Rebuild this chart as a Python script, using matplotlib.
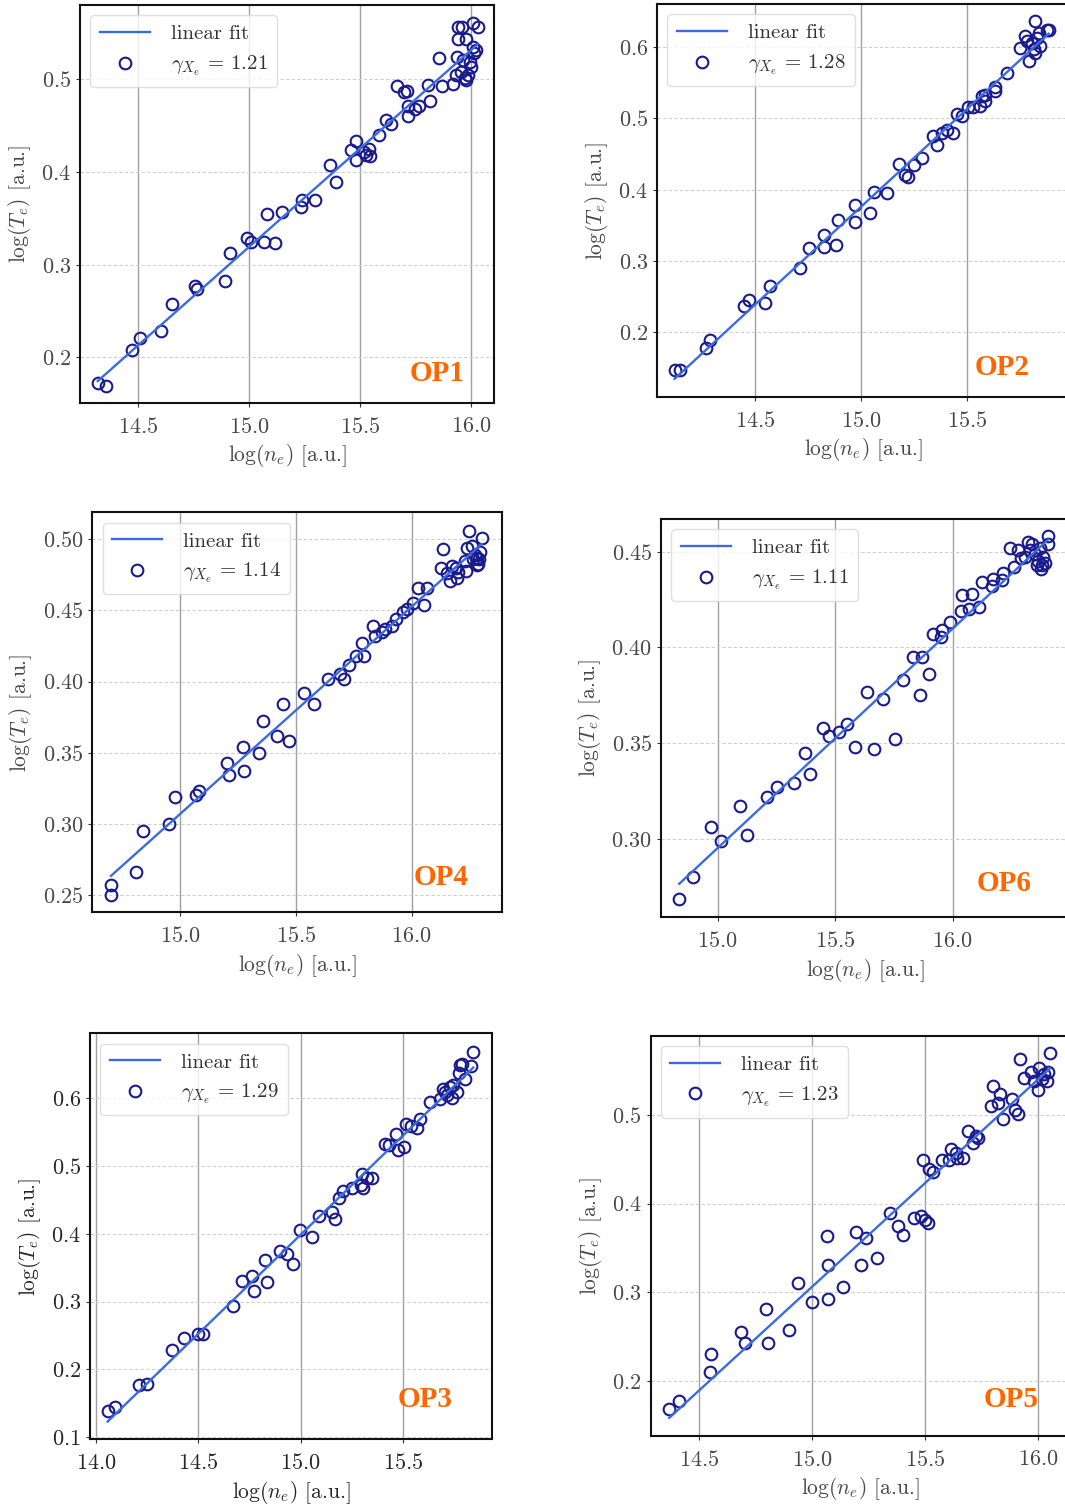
import numpy as np
import matplotlib
matplotlib.use("Agg")
import matplotlib.pyplot as plt
from matplotlib.ticker import MultipleLocator

plt.rcParams['font.family'] = ['cmr10', 'DejaVu Serif']
plt.rcParams['mathtext.fontset'] = 'cm'
plt.rcParams['axes.formatter.use_mathtext'] = True
plt.rcParams['axes.unicode_minus'] = False

# ---------------- data ----------------
panel_names = ["OP1", "OP2", "OP4", "OP6", "OP3", "OP5"]
gammas = ["1.21", "1.28", "1.14", "1.11", "1.29", "1.23"]

op1_ne = [14.317, 14.353, 14.470, 14.508, 14.602, 14.652, 14.754, 14.763, 14.890, 14.913,
          14.991, 15.010, 15.068, 15.081, 15.116, 15.150, 15.233, 15.237, 15.299, 15.366,
          15.393, 15.461, 15.480, 15.480, 15.517, 15.529, 15.541, 15.547, 15.586, 15.619,
          15.641, 15.667, 15.697, 15.712, 15.716, 15.716, 15.746, 15.766, 15.806, 15.814,
          15.856, 15.869, 15.919, 15.937, 15.941, 15.941, 15.961, 15.979, 15.956, 15.971,
          15.994, 16.000, 16.008, 16.008, 16.030, 16.015, 15.985, 15.932, 15.962, 16.023,
          15.979]
op1_te = [0.172, 0.169, 0.208, 0.221, 0.228, 0.258, 0.277, 0.274, 0.282, 0.313,
          0.329, 0.325, 0.325, 0.355, 0.324, 0.357, 0.362, 0.370, 0.370, 0.408,
          0.389, 0.424, 0.434, 0.413, 0.422, 0.418, 0.425, 0.417, 0.440, 0.456,
          0.452, 0.493, 0.486, 0.487, 0.471, 0.461, 0.468, 0.471, 0.494, 0.477,
          0.523, 0.493, 0.495, 0.524, 0.544, 0.557, 0.557, 0.544, 0.508, 0.502,
          0.519, 0.513, 0.535, 0.561, 0.557, 0.528, 0.505, 0.505, 0.521, 0.532,
          0.499]

op2_ne = [14.119, 14.146, 14.269, 14.285, 14.445, 14.469, 14.547, 14.571, 14.713, 14.755,
          14.823, 14.823, 14.883, 14.891, 14.972, 14.972, 15.040, 15.062, 15.122, 15.177,
          15.209, 15.224, 15.248, 15.287, 15.339, 15.358, 15.381, 15.405, 15.436, 15.452,
          15.476, 15.507, 15.531, 15.563, 15.571, 15.587, 15.587, 15.634, 15.634, 15.689,
          15.752, 15.776, 15.791, 15.807, 15.823, 15.823, 15.831, 15.839, 15.846, 15.878,
          15.886, 15.783, 15.815]
op2_te = [0.147, 0.147, 0.178, 0.189, 0.237, 0.246, 0.241, 0.265, 0.290, 0.318,
          0.337, 0.320, 0.322, 0.358, 0.379, 0.355, 0.367, 0.397, 0.395, 0.436,
          0.421, 0.418, 0.435, 0.444, 0.476, 0.463, 0.479, 0.484, 0.480, 0.506,
          0.503, 0.516, 0.516, 0.517, 0.531, 0.533, 0.524, 0.538, 0.544, 0.564,
          0.599, 0.616, 0.580, 0.606, 0.636, 0.592, 0.613, 0.620, 0.601, 0.624,
          0.624, 0.608, 0.597]

op4_ne = [14.702, 14.702, 14.809, 14.842, 14.954, 14.976, 15.068, 15.083, 15.201, 15.210,
          15.273, 15.278, 15.342, 15.360, 15.417, 15.446, 15.472, 15.535, 15.580, 15.637,
          15.691, 15.709, 15.731, 15.760, 15.784, 15.794, 15.835, 15.842, 15.871, 15.885,
          15.914, 15.932, 15.964, 15.978, 16.006, 16.026, 16.055, 16.065, 16.134, 16.129,
          16.153, 16.165, 16.173, 16.191, 16.194, 16.201, 16.235, 16.237, 16.249, 16.259,
          16.273, 16.281, 16.288, 16.295, 16.302, 16.291, 16.281, 16.266, 16.230]
op4_te = [0.257, 0.250, 0.266, 0.295, 0.300, 0.319, 0.320, 0.323, 0.343, 0.334,
          0.354, 0.337, 0.350, 0.372, 0.362, 0.384, 0.358, 0.392, 0.384, 0.402,
          0.405, 0.402, 0.412, 0.418, 0.427, 0.418, 0.439, 0.432, 0.435, 0.437,
          0.439, 0.444, 0.449, 0.451, 0.455, 0.466, 0.454, 0.466, 0.493, 0.480,
          0.476, 0.471, 0.481, 0.480, 0.473, 0.477, 0.478, 0.494, 0.506, 0.495,
          0.489, 0.487, 0.483, 0.491, 0.501, 0.486, 0.482, 0.486, 0.485]

op6_ne = [14.837, 14.894, 14.970, 15.013, 15.095, 15.123, 15.209, 15.251, 15.326, 15.372,
          15.393, 15.450, 15.475, 15.518, 15.549, 15.584, 15.634, 15.665, 15.702, 15.755,
          15.790, 15.833, 15.861, 15.868, 15.899, 15.918, 15.950, 15.953, 15.989, 16.035,
          16.038, 16.071, 16.081, 16.113, 16.123, 16.166, 16.173, 16.213, 16.208, 16.244,
          16.262, 16.277, 16.291, 16.322, 16.339, 16.350, 16.364, 16.376, 16.386, 16.393,
          16.404, 16.407, 16.372, 16.357, 16.379, 16.308, 16.329]
op6_te = [0.2685, 0.280, 0.306, 0.299, 0.317, 0.302, 0.322, 0.327, 0.329, 0.345,
          0.334, 0.358, 0.354, 0.356, 0.360, 0.348, 0.377, 0.347, 0.373, 0.352,
          0.383, 0.395, 0.375, 0.395, 0.386, 0.407, 0.4056, 0.409, 0.4135, 0.419,
          0.4274, 0.420, 0.428, 0.421, 0.434, 0.432, 0.436, 0.439, 0.435, 0.452,
          0.442, 0.451, 0.4465, 0.455, 0.454, 0.449, 0.445, 0.441, 0.447, 0.444,
          0.458, 0.454, 0.452, 0.443, 0.443, 0.447, 0.451]

op3_ne = [14.057, 14.093, 14.211, 14.247, 14.373, 14.431, 14.499, 14.524, 14.670, 14.711,
          14.763, 14.771, 14.825, 14.836, 14.898, 14.931, 14.960, 14.996, 15.057, 15.090,
          15.150, 15.166, 15.188, 15.207, 15.248, 15.297, 15.293, 15.305, 15.321, 15.350,
          15.410, 15.432, 15.464, 15.476, 15.503, 15.513, 15.537, 15.565, 15.584, 15.633,
          15.679, 15.695, 15.716, 15.736, 15.744, 15.764, 15.772, 15.789, 15.800, 15.833,
          15.842, 15.728, 15.703, 15.779]
op3_te = [0.139, 0.144, 0.177, 0.179, 0.228, 0.247, 0.253, 0.253, 0.293, 0.330,
          0.338, 0.316, 0.361, 0.329, 0.375, 0.371, 0.356, 0.406, 0.396, 0.427,
          0.433, 0.422, 0.453, 0.464, 0.467, 0.489, 0.472, 0.467, 0.483, 0.483,
          0.533, 0.531, 0.548, 0.524, 0.528, 0.562, 0.559, 0.556, 0.570, 0.595,
          0.599, 0.613, 0.605, 0.601, 0.620, 0.610, 0.637, 0.650, 0.629, 0.647,
          0.669, 0.617, 0.610, 0.649]

op5_ne = [14.367, 14.412, 14.552, 14.547, 14.683, 14.702, 14.795, 14.802, 14.898, 14.935,
          15.000, 15.063, 15.071, 15.071, 15.134, 15.193, 15.215, 15.237, 15.285, 15.344,
          15.381, 15.403, 15.450, 15.479, 15.499, 15.510, 15.488, 15.518, 15.535, 15.575,
          15.605, 15.614, 15.634, 15.642, 15.665, 15.690, 15.712, 15.724, 15.735, 15.791,
          15.801, 15.820, 15.830, 15.845, 15.882, 15.897, 15.909, 15.919, 15.938, 15.968,
          15.982, 16.000, 16.004, 16.027, 16.037, 16.044, 16.052, 16.015]
op5_te = [0.169, 0.177, 0.230, 0.210, 0.255, 0.2425, 0.281, 0.2425, 0.2575, 0.311,
          0.289, 0.363, 0.331, 0.293, 0.306, 0.368, 0.331, 0.361, 0.339, 0.389,
          0.375, 0.365, 0.3835, 0.3865, 0.382, 0.378, 0.449, 0.439, 0.436, 0.449,
          0.449, 0.462, 0.4575, 0.451, 0.452, 0.482, 0.468, 0.476, 0.474, 0.5105,
          0.533, 0.513, 0.524, 0.495, 0.518, 0.506, 0.501, 0.563, 0.542, 0.548,
          0.538, 0.528, 0.553, 0.546, 0.538, 0.548, 0.570, 0.541]

panel_ne = [op1_ne, op2_ne, op4_ne, op6_ne, op3_ne, op5_ne]
panel_te = [op1_te, op2_te, op4_te, op6_te, op3_te, op5_te]

# axis limits per panel
x_limits = [(14.237, 16.104), (14.036, 15.987), (14.621, 16.389),
            (14.759, 16.499), (13.971, 15.935), (14.285, 16.140)]
y_limits = [(0.1508, 0.5803), (0.1096, 0.6604), (0.2378, 0.519),
            (0.2591, 0.4671), (0.097, 0.6959), (0.138, 0.5894)]
y_steps = [0.1, 0.1, 0.05, 0.05, 0.1, 0.1]

# ---------------- layout (pixel rects: left, top, right, bottom) ----------------
W, H = 1065, 1509
rects = [(80, 5, 494, 403), (657, 4, 1070, 397), (92.3, 512.3, 501.7, 912.3),
         (661, 519, 1070, 917.3), (90, 1033.3, 492.3, 1439.3), (650.7, 1035.7, 1070, 1436)]
op_pos = [(0.930, 0.055), (0.903, 0.056), (0.918, 0.068),
          (0.905, 0.066), (0.902, 0.080), (0.926, 0.073)]

fig = plt.figure(figsize=(W / 100, H / 100), dpi=100)

line_color = '#3a6be0'
marker_color = '#1a1a8c'
text_color = '#484848'

for i in range(6):
    l, t, r, b = rects[i]
    ax = fig.add_axes([l / W, 1 - b / H, (r - l) / W, (b - t) / H])
    x = np.array(panel_ne[i])
    y = np.array(panel_te[i])
    coef = np.polyfit(x, y, 1)
    xf = np.array([x.min(), x.max()])
    tc = '#262626' if panel_names[i] == "OP3" else text_color

    ax.plot(xf, np.polyval(coef, xf), color=line_color, lw=1.7, zorder=4, label='linear fit')
    ax.plot(x, y, linestyle='none', marker='o', ms=8.4, mfc='none', mec=marker_color,
            mew=1.5, zorder=3, label=r'$\gamma_{X_e}\,=\,$' + gammas[i])

    ax.set_xlim(*x_limits[i])
    ax.set_ylim(*y_limits[i])
    ax.xaxis.set_major_locator(MultipleLocator(0.5))
    ax.yaxis.set_major_locator(MultipleLocator(y_steps[i]))

    ax.grid(True, axis='x', color='#a0a0a0', lw=1.0, ls='-', zorder=0)
    ax.grid(True, axis='y', color='#cfcfcf', lw=0.8, ls=(0, (3, 2)), zorder=0)
    ax.set_axisbelow(True)

    for s in ax.spines.values():
        s.set_linewidth(1.5)
        s.set_color('#111111')

    ax.tick_params(labelsize=16, colors=tc, length=3, width=0.8)
    ax.tick_params(axis='both', color='#333333')
    ax.tick_params(axis='x', pad=7)
    ax.set_xlabel(r'$\log(n_e)$ [a.u.]', fontsize=15.5, color=tc, labelpad=4)
    ax.set_ylabel(r'$\log(T_e)$ [a.u.]', fontsize=15.5, color=tc, labelpad=6)

    leg = ax.legend(loc='upper left', fontsize=15, handlelength=2.4, handletextpad=1.0,
                    labelspacing=0.5, borderpad=0.45, framealpha=0.8, fancybox=True)
    leg.get_frame().set_edgecolor('#d8d8d8')
    for txt in leg.get_texts():
        txt.set_color('#333333')

    ax.text(op_pos[i][0], op_pos[i][1], panel_names[i], transform=ax.transAxes,
            ha='right', va='baseline', fontsize=21, fontweight='bold',
            family='Liberation Serif', color='#ff6600', zorder=6)

fig.savefig('out.png', dpi=100)
